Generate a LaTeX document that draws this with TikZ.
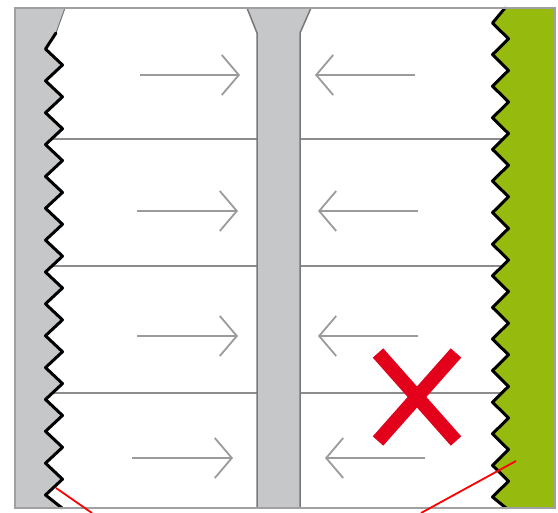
\documentclass[tikz,border=0pt]{standalone}
\usetikzlibrary{arrows.meta}
\definecolor{stripgray}{RGB}{198,199,201}
\definecolor{edgegray}{RGB}{120,120,122}
\definecolor{framegray}{RGB}{160,160,162}
\definecolor{arrowgray}{RGB}{155,155,157}
\definecolor{linegray}{RGB}{140,140,142}
\definecolor{boardgreen}{RGB}{150,186,14}
\definecolor{signalred}{RGB}{226,0,26}
\tikzset{
  zig/.style={draw=black,line width=3pt,line join=round,line cap=round},
  joint/.style={draw=linegray,line width=1.2pt},
  push/.style={draw=arrowgray,line width=1.8pt,-{Straight Barb[length=17pt,width=40pt]}},
  outline/.style={draw=edgegray,line width=1.5pt},
  frameline/.style={draw=framegray,line width=1.5pt},
  crossbar/.style={draw=signalred,line width=14pt},
  pointer/.style={draw=red,line width=1.8pt}
}
\begin{document}
\begin{tikzpicture}[x=1pt,y=-1pt]
\useasboundingbox (0,0) rectangle (558,513);
\fill[white] (0,0) rectangle (558,513);
% horizontal joints
\foreach \yy in {139,266,393}{
  \draw[joint] (50,\yy) -- (505,\yy);
}
% arrows
\coordinate (r1s) at (140,75);  \coordinate (r1e) at (240,75);
\coordinate (l1s) at (415,75);  \coordinate (l1e) at (315,75);
\coordinate (r2s) at (137,211); \coordinate (r2e) at (238,211);
\coordinate (l2s) at (418,211); \coordinate (l2e) at (318,211);
\coordinate (r3s) at (137,336); \coordinate (r3e) at (238,336);
\coordinate (l3s) at (418,336); \coordinate (l3e) at (318,336);
\coordinate (r4s) at (132,458); \coordinate (r4e) at (233,458);
\coordinate (l4s) at (425,458); \coordinate (l4e) at (325,458);
\foreach \n in {1,2,3,4}{
  \draw[push] (r\n s) -- (r\n e);
  \draw[push] (l\n s) -- (l\n e);
}
% left gray strip
\fill[stripgray] (15,8) -- (65,8) -- (56,33)
  \foreach \k in {0,...,13}{ -- (45.5,{49+31.86*\k}) -- (62.5,{65+31.86*\k}) }
  -- (45.5,495) -- (62,508) -- (15,508) -- cycle;
\draw[edgegray,line width=1pt] (65,8) -- (56,33);
\draw[zig] (56,33)
  \foreach \k in {0,...,13}{ -- (45.5,{49+31.86*\k}) -- (62.5,{65+31.86*\k}) }
  -- (45.5,495) -- (62,508);
% green board
\fill[boardgreen] (505,8)
  \foreach \k in {0,...,14}{ -- (492.5,{23+31.6*\k}) -- (508.5,{38.8+31.6*\k}) }
  -- (492.5,497) -- (506,508) -- (554,508) -- (554,8) -- cycle;
\draw[zig] (505,8)
  \foreach \k in {0,...,14}{ -- (492.5,{23+31.6*\k}) -- (508.5,{38.8+31.6*\k}) }
  -- (492.5,497) -- (506,508);
% central post
\filldraw[fill=stripgray,outline] (247,8) -- (311,8) -- (300,33) -- (300,508)
  -- (257,508) -- (257,33) -- cycle;
% frame
\draw[frameline] (15,8) rectangle (555,508);
% red cross
\coordinate (xa) at (378,353); \coordinate (xb) at (456,441);
\coordinate (xc) at (456,353); \coordinate (xd) at (378,441);
\draw[crossbar] (xa) -- (xb);
\draw[crossbar] (xc) -- (xd);
% red pointer lines
\coordinate (pa) at (56,488); \coordinate (pb) at (92,513);
\coordinate (pc) at (516,461); \coordinate (pd) at (421,513);
\draw[pointer] (pa) -- (pb);
\draw[pointer] (pc) -- (pd);
\end{tikzpicture}
\end{document}
